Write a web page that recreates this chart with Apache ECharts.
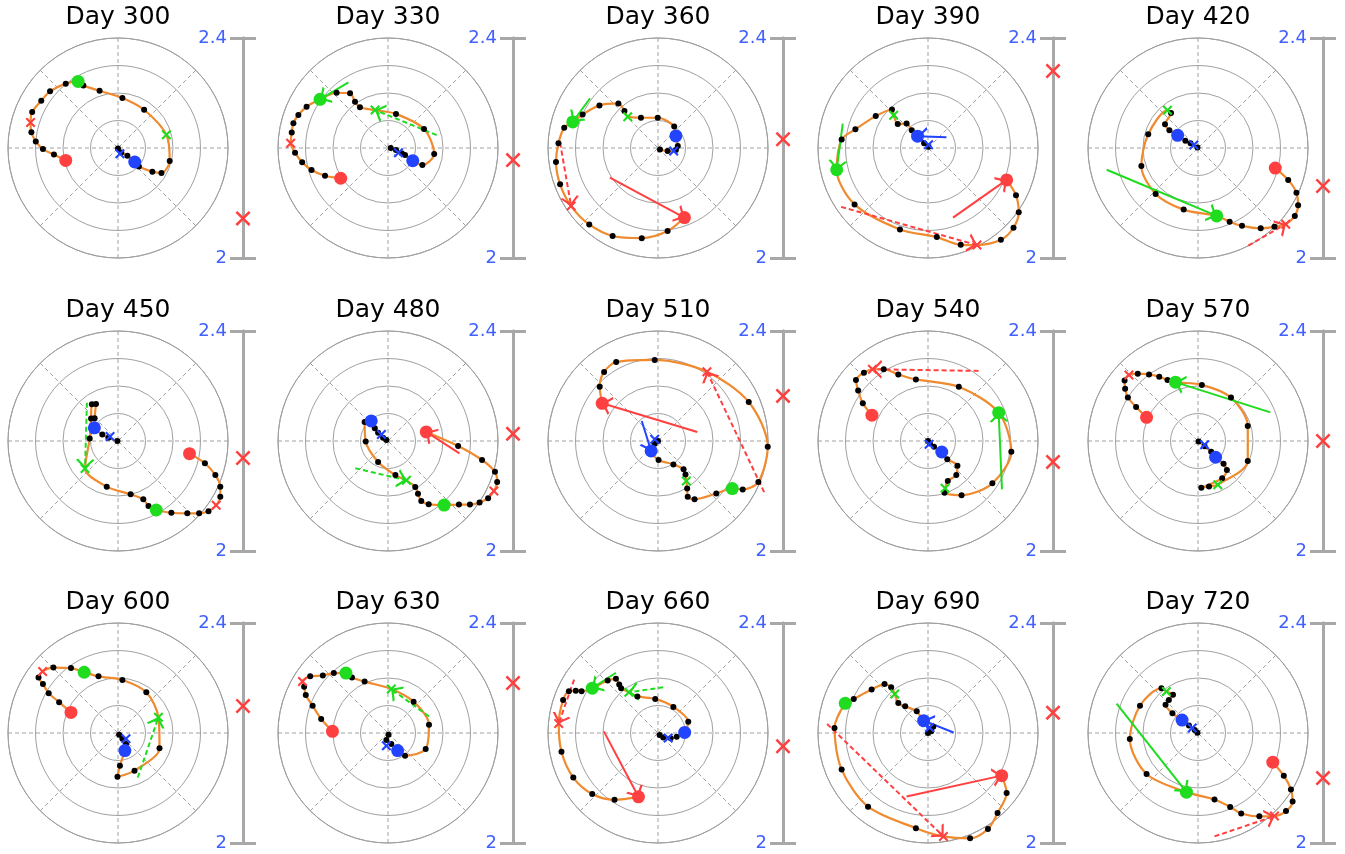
<!DOCTYPE html>
<html><head><meta charset="utf-8">
<script src="https://cdn.jsdelivr.net/npm/echarts@6/dist/echarts.min.js"></script>
<style>html,body{margin:0;padding:0;background:#fff}#c{width:1345px;height:854px}</style>
</head><body><div id="c"></div>
<script>
const days = [300,330,360,390,420,450,480,510,540,570,600,630,660,690,720];
const ratioValues = [2.072,2.178,2.216,2.340,2.131,2.169,2.213,2.282,2.162,2.200,2.249,2.291,2.176,2.237,2.118];
const scaleTicks = [2, 2.4];

const orbitDay300 = [[-1.90,-0.45],[-2.33,-0.24],[-2.73,-0.04],[-2.99,0.24],[-3.15,0.57],[-3.18,0.93],[-3.12,1.31],[-2.79,1.72],[-2.47,2.06],[-1.90,2.34],[-1.45,2.42],[-1.26,2.27],[-0.67,2.08],[0.16,1.82],[0.95,1.39],[1.76,0.48],[1.88,-0.47],[1.58,-0.91],[1.25,-0.86],[0.76,-0.67],[0.61,-0.51],[0.34,-0.28],[0.12,-0.16],[0.00,-0.02]];
const orbitDay330 = [[-1.72,-1.10],[-2.29,-1.01],[-2.78,-0.80],[-3.12,-0.52],[-3.38,-0.17],[-3.54,0.17],[-3.50,0.56],[-3.44,0.90],[-3.26,1.20],[-2.96,1.50],[-2.47,1.77],[-1.87,2.01],[-1.38,1.99],[-1.20,1.68],[-1.02,1.48],[-0.47,1.38],[0.29,1.24],[1.31,0.69],[1.68,-0.22],[1.25,-0.62],[0.90,-0.46],[0.62,-0.25],[0.50,-0.19],[0.29,-0.07],[0.10,0.00]];
const orbitDay360 = [[0.96,-2.53],[0.35,-3.02],[-0.59,-3.28],[-1.65,-3.20],[-2.50,-2.78],[-3.16,-2.11],[-3.56,-1.32],[-3.71,-0.51],[-3.62,0.17],[-3.41,0.74],[-3.10,0.95],[-2.74,1.22],[-2.13,1.55],[-1.44,1.62],[-1.22,1.35],[-1.10,1.14],[-0.62,1.10],[-0.01,1.10],[0.59,0.78],[0.65,0.44],[0.72,0.07],[0.65,-0.07],[0.35,-0.11],[0.07,-0.05]];
const orbitDay390 = [[2.86,-1.16],[3.20,-1.72],[3.30,-2.34],[3.11,-2.90],[2.65,-3.34],[1.78,-3.53],[1.19,-3.52],[0.32,-3.24],[-1.02,-2.96],[-2.67,-2.05],[-3.32,-0.79],[-3.14,0.31],[-2.64,0.68],[-1.90,1.16],[-1.31,1.40],[-1.25,1.19],[-1.10,0.87],[-0.78,0.89],[-0.59,0.65],[-0.38,0.43],[-0.14,0.17],[0.02,0.05]];
const orbitDay420 = [[2.81,-0.73],[3.28,-1.16],[3.58,-1.63],[3.64,-2.08],[3.52,-2.47],[3.19,-2.77],[2.78,-2.86],[2.28,-2.92],[1.60,-2.83],[1.15,-2.68],[0.68,-2.47],[-0.52,-2.24],[-1.54,-1.67],[-2.06,-0.65],[-1.81,0.50],[-1.11,1.37],[-0.98,1.27],[-1.20,0.86],[-1.04,0.65],[-0.74,0.46],[-0.46,0.26],[-0.27,0.17],[-0.02,0.02]];
const orbitDay450 = [[2.60,-0.46],[3.16,-0.81],[3.54,-1.24],[3.72,-1.66],[3.72,-2.03],[3.57,-2.34],[3.29,-2.55],[2.95,-2.63],[2.52,-2.63],[1.94,-2.61],[1.39,-2.51],[1.11,-2.36],[0.92,-2.12],[0.46,-1.94],[-0.41,-1.66],[-1.20,-1.00],[-1.03,0.09],[-0.98,0.82],[-0.95,1.34],[-0.80,1.35],[-0.85,0.83],[-0.86,0.48],[-0.57,0.24],[-0.35,0.12],[-0.02,0.00]];
const orbitDay480 = [[1.39,0.33],[2.55,-0.18],[3.42,-0.69],[3.89,-1.12],[3.97,-1.49],[3.85,-1.82],[3.64,-2.08],[3.33,-2.24],[2.98,-2.31],[2.58,-2.31],[2.04,-2.33],[1.48,-2.30],[1.21,-2.18],[1.09,-1.92],[0.99,-1.67],[0.67,-1.43],[0.27,-1.24],[-0.36,-0.76],[-0.81,-0.02],[-0.85,0.69],[-0.61,0.73],[-0.48,0.46],[-0.36,0.30],[-0.18,0.12],[-0.06,0.04]];
const orbitDay510 = [[-2.03,1.37],[-2.12,1.97],[-1.96,2.51],[-1.52,2.87],[-0.12,2.95],[1.78,2.52],[3.30,1.42],[3.99,-0.21],[3.65,-1.49],[3.08,-1.76],[2.70,-1.73],[2.12,-1.91],[1.33,-2.12],[1.08,-2.03],[1.06,-1.73],[1.03,-1.45],[1.00,-1.22],[0.93,-1.03],[0.56,-0.85],[0.02,-0.69],[-0.25,-0.36],[-0.12,-0.10],[0.00,0.00]];
const orbitDay540 = [[-2.04,0.94],[-2.37,1.37],[-2.54,1.84],[-2.62,2.22],[-2.33,2.48],[-2.02,2.61],[-1.61,2.61],[-1.08,2.42],[-0.44,2.24],[1.12,1.97],[2.57,1.03],[3.03,-0.39],[2.34,-1.54],[1.22,-1.97],[0.60,-1.88],[0.62,-1.72],[0.72,-1.45],[1.03,-1.24],[1.07,-0.90],[0.70,-0.66],[0.50,-0.40],[0.22,-0.21],[0.07,-0.09],[0.00,0.00]];
const orbitDay570 = [[-1.87,0.86],[-2.25,1.24],[-2.55,1.58],[-2.65,1.90],[-2.67,2.20],[-2.51,2.40],[-2.19,2.45],[-1.78,2.42],[-1.41,2.34],[-1.11,2.22],[-0.82,2.14],[0.14,2.04],[1.20,1.58],[1.81,0.55],[1.81,-0.73],[0.72,-1.59],[0.40,-1.65],[0.12,-1.70],[0.88,-1.35],[1.05,-1.05],[0.93,-0.83],[0.64,-0.59],[0.48,-0.39],[0.24,-0.19],[0.02,-0.02]];
const orbitDay600 = [[-1.71,0.75],[-2.14,1.12],[-2.52,1.45],[-2.73,1.78],[-2.89,2.02],[-2.74,2.24],[-2.35,2.38],[-1.71,2.36],[-1.23,2.21],[-0.71,2.06],[0.16,1.93],[1.03,1.48],[1.47,0.57],[1.51,-0.55],[0.60,-1.37],[-0.02,-1.59],[0.07,-1.19],[0.25,-0.64],[0.29,-0.40],[0.16,-0.21],[0.04,-0.06]];
const orbitDay630 = [[-2.02,0.06],[-2.43,0.51],[-2.74,0.99],[-2.99,1.38],[-3.05,1.68],[-3.11,1.87],[-2.83,2.06],[-2.37,2.09],[-1.97,2.18],[-1.53,2.18],[-1.31,2.02],[-0.85,1.87],[0.12,1.60],[0.93,1.14],[1.49,0.30],[1.37,-0.58],[0.62,-0.83],[0.35,-0.64],[0.12,-0.40],[-0.06,-0.25],[0.02,-0.06]];
const orbitDay660 = [[-0.71,-2.32],[-1.58,-2.43],[-2.39,-2.22],[-3.08,-1.62],[-3.51,-0.68],[-3.61,0.35],[-3.45,1.20],[-3.24,1.52],[-2.99,1.54],[-2.78,1.52],[-2.39,1.63],[-1.83,1.91],[-1.53,1.97],[-1.41,1.76],[-1.34,1.63],[-1.06,1.48],[-0.75,1.33],[-0.10,1.24],[0.56,0.95],[1.10,0.41],[0.97,0.02],[0.68,-0.14],[0.46,-0.19],[0.19,-0.16],[0.06,-0.07]];
const orbitDay690 = [[2.68,-1.55],[2.86,-2.18],[2.53,-2.91],[2.18,-3.49],[1.53,-3.83],[0.56,-3.76],[-0.44,-3.46],[-2.18,-2.68],[-3.14,-1.33],[-3.40,0.18],[-3.01,1.08],[-2.70,1.24],[-2.05,1.58],[-1.58,1.78],[-1.34,1.66],[-1.21,1.42],[-1.08,1.09],[-0.83,0.97],[-0.41,0.79],[-0.16,0.45],[0.19,0.23],[0.12,0.06],[0.00,0.00]];
const orbitDay720 = [[2.72,-1.06],[3.12,-1.55],[3.38,-2.05],[3.44,-2.49],[3.20,-2.84],[2.78,-3.02],[2.23,-3.03],[1.57,-2.93],[1.17,-2.69],[0.60,-2.42],[-0.42,-2.15],[-1.87,-1.49],[-2.48,-0.22],[-2.11,0.99],[-1.33,1.63],[-1.15,1.51],[-0.91,1.39],[-1.06,1.20],[-1.18,1.03],[-0.93,0.72],[-0.58,0.47],[-0.33,0.27],[-0.12,0.11],[-0.02,0.01]];

// index in each orbit of: red dot, red cross, green dot, green cross, blue dot
const markerIdx = [[0,5,10,15,20],[0,5,10,15,20],[0,5,10,15,19],[0,5,10,15,19],[0,5,10,15,19],[0,5,10,15,21],[0,5,10,15,20],[0,5,10,15,20],[0,5,10,15,20],[0,5,10,15,21],[0,5,8,12,17],[0,5,9,12,17],[0,5,10,15,20],[0,5,10,15,19],[0,5,10,15,20]];
const blueCross = [[0.07,-0.21],[0.38,-0.17],[0.57,-0.11],[0.02,0.12],[-0.15,0.11],[-0.29,0.16],[-0.24,0.24],[-0.12,0.06],[0.04,-0.12],[0.24,-0.14],[0.29,-0.21],[-0.06,-0.46],[0.37,-0.18],[0.06,0.20],[-0.21,0.18]];

// arrows: [target marker, tail x, tail y]
const arrowsDay300 = [];
const arrowsDay330 = [['gd',-1.44,2.39],['gx',1.77,0.47]];
const arrowsDay360 = [['gd',-2.47,1.81],['rx',-3.56,0.19],['rd',-1.75,-1.08]];
const arrowsDay390 = [['gd',-3.10,0.89],['rx',-3.16,-2.14],['rd',0.91,-2.53],['bd',0.67,0.39]];
const arrowsDay420 = [['gd',-3.32,-0.79],['rx',1.83,-3.55]];
const arrowsDay450 = [['gx',-1.13,1.39]];
const arrowsDay480 = [['rd',2.60,-0.45],['gx',-1.19,-0.99]];
const arrowsDay510 = [['rd',1.43,0.33],['rx',3.86,-1.86],['bd',-0.59,0.73]];
const arrowsDay540 = [['rx',1.84,2.55],['gd',2.69,-1.76]];
const arrowsDay570 = [['gd',2.63,1.04]];
const arrowsDay600 = [['gx',0.72,-1.62]];
const arrowsDay630 = [['gx',1.49,0.60]];
const arrowsDay660 = [['gd',-1.53,2.19],['gx',0.19,1.66],['rx',-3.05,1.94],['rd',-1.97,0.06]];
const arrowsDay690 = [['rd',-0.78,-2.31],['rx',-3.67,0.33],['bd',0.93,0.02]];
const arrowsDay720 = [['gd',-2.96,1.07],['rx',0.60,-3.76]];

const orbits = [orbitDay300,orbitDay330,orbitDay360,orbitDay390,orbitDay420,orbitDay450,orbitDay480,orbitDay510,orbitDay540,orbitDay570,orbitDay600,orbitDay630,orbitDay660,orbitDay690,orbitDay720];
const arrows = [arrowsDay300,arrowsDay330,arrowsDay360,arrowsDay390,arrowsDay420,arrowsDay450,arrowsDay480,arrowsDay510,arrowsDay540,arrowsDay570,arrowsDay600,arrowsDay630,arrowsDay660,arrowsDay690,arrowsDay720];

const colX = [118,388,658,928,1198];
const rowY = [148,441,733];
const titleTop = [5,298,590];
const R = 110;
const RED='#ff4040', GREEN='#1fdc1f', BLUE='#2244ff', ORANGE='#f08a2e', GRAY='#a0a0a0';
const X_PATH = 'path://M1.5,0 L5,3.5 L8.5,0 L10,1.5 L6.5,5 L10,8.5 L8.5,10 L5,6.5 L1.5,10 L0,8.5 L3.5,5 L0,1.5 Z';
const X_THIN = 'path://M1.2,0 L5,3.8 L8.8,0 L10,1.2 L6.2,5 L10,8.8 L8.8,10 L5,6.2 L1.2,10 L0,8.8 L3.8,5 L0,1.2 Z';
const CHEVRON = 'path://M6,0 L6,0.01 Z M6,11 L12,21.6 L10.5,22.6 L6,14.4 L1.5,22.6 L0,21.6 Z';
const keys = ['rd','rx','gd','gx','bd'];
const keyColor = {rd:RED, rx:RED, gd:GREEN, gx:GREEN, bd:BLUE, bx:BLUE};
const keyDashed = {rd:false, rx:true, gd:false, gx:true, bd:false, bx:true};

const option = {animation:false, backgroundColor:'#fff', title:[], polar:[], angleAxis:[], radiusAxis:[], grid:[], xAxis:[], yAxis:[], series:[]};

for (let i = 0; i < 15; i++) {
  const cx = colX[i % 5], row = Math.floor(i / 5), cy = rowY[row];
  option.title.push({text:'Day ' + days[i], left:cx, top:titleTop[row], textAlign:'center', padding:0,
    textStyle:{fontFamily:'DejaVu Sans', fontSize:25, fontWeight:'normal', color:'#000'}});
  option.polar.push({center:[cx, cy], radius:R});
  option.radiusAxis.push({polarIndex:i, type:'value', min:0, max:4, interval:1,
    axisLine:{show:false}, axisTick:{show:false}, axisLabel:{show:false},
    splitLine:{show:true, lineStyle:{color:GRAY, width:1}}});
  option.angleAxis.push({polarIndex:i, type:'value', min:0, max:360, interval:45, startAngle:90,
    axisLine:{show:true, lineStyle:{color:GRAY, width:1}}, axisTick:{show:false}, axisLabel:{show:false},
    splitLine:{show:true, lineStyle:{color:GRAY, width:1, type:[4,3]}}});
  option.grid.push({left:cx - R, top:cy - R, width:2 * R, height:2 * R});
  option.xAxis.push({gridIndex:i, type:'value', min:-4, max:4, show:false});
  option.yAxis.push({gridIndex:i, type:'value', min:-4, max:4, show:false});
}
for (let i = 0; i < 15; i++) {
  const cx = colX[i % 5], cy = rowY[Math.floor(i / 5)];
  option.grid.push({left:cx + 125, top:cy - R, width:1, height:2 * R});
  option.xAxis.push({gridIndex:15 + i, type:'value', min:0, max:1, show:false});
  const base = {gridIndex:15 + i, type:'value', min:scaleTicks[0], max:scaleTicks[1], interval:scaleTicks[1] - scaleTicks[0], position:'left',
    axisLine:{show:true, onZero:false, lineStyle:{color:'#a8a8a8', width:3}}, splitLine:{show:false}};
  option.yAxis.push(Object.assign({}, base, {
    axisTick:{show:true, length:13, lineStyle:{color:'#a8a8a8', width:3}},
    axisLabel:{show:true, color:'#4060ff', fontSize:18, fontFamily:'DejaVu Sans', margin:16}}));
  option.yAxis.push(Object.assign({}, base, {
    axisTick:{show:true, inside:true, length:13, lineStyle:{color:'#a8a8a8', width:3}},
    axisLabel:{show:false}}));
}

for (let i = 0; i < 15; i++) {
  const orb = orbits[i];
  const idx = markerIdx[i];
  const pos = {};
  keys.forEach((k, j) => { pos[k] = orb[idx[j]]; });
  pos.bx = blueCross[i];
  option.series.push({type:'line', xAxisIndex:i, yAxisIndex:i, data:orb, showSymbol:false, symbol:'none',
    smooth:0.3, clip:false, silent:true, lineStyle:{color:ORANGE, width:2.2}, z:2});
  option.series.push({type:'lines', coordinateSystem:'cartesian2d', xAxisIndex:i, yAxisIndex:i, clip:false, silent:true,
    symbol:['none', CHEVRON], symbolSize:[10, 19], z:3,
    lineStyle:{width:2, curveness:0, opacity:1},
    data: arrows[i].map(a => ({coords:[[a[1], a[2]], pos[a[0]]],
      lineStyle:{color:keyColor[a[0]], width:2, opacity:1, type: keyDashed[a[0]] ? [5,3] : 'solid'}}))});
  option.series.push({type:'scatter', xAxisIndex:i, yAxisIndex:i, clip:false, silent:true, symbol:'circle', symbolSize:6,
    itemStyle:{color:'#000', opacity:1}, z:4,
    data: orb.filter((p, k) => idx.indexOf(k) < 0)});
  option.series.push({type:'scatter', xAxisIndex:i, yAxisIndex:i, clip:false, silent:true, z:5,
    itemStyle:{opacity:1},
    data:[
      {value:pos.rd, symbol:'circle', symbolSize:13, itemStyle:{color:RED, opacity:1}},
      {value:pos.gd, symbol:'circle', symbolSize:13, itemStyle:{color:GREEN, opacity:1}},
      {value:pos.bd, symbol:'circle', symbolSize:13, itemStyle:{color:BLUE, opacity:1}},
      {value:pos.rx, symbol:X_PATH, symbolSize:10, itemStyle:{color:RED, opacity:1}},
      {value:pos.gx, symbol:X_PATH, symbolSize:10, itemStyle:{color:GREEN, opacity:1}},
      {value:pos.bx, symbol:X_PATH, symbolSize:10, itemStyle:{color:BLUE, opacity:1}}
    ]});
  option.series.push({type:'scatter', xAxisIndex:15 + i, yAxisIndex:15 + 2 * i, clip:false, silent:true, z:5,
    symbol:X_THIN, symbolSize:15, itemStyle:{color:RED, opacity:1}, data:[[0, ratioValues[i]]]});
}

const chart = echarts.init(document.getElementById('c'));
chart.setOption(option);
</script></body></html>
